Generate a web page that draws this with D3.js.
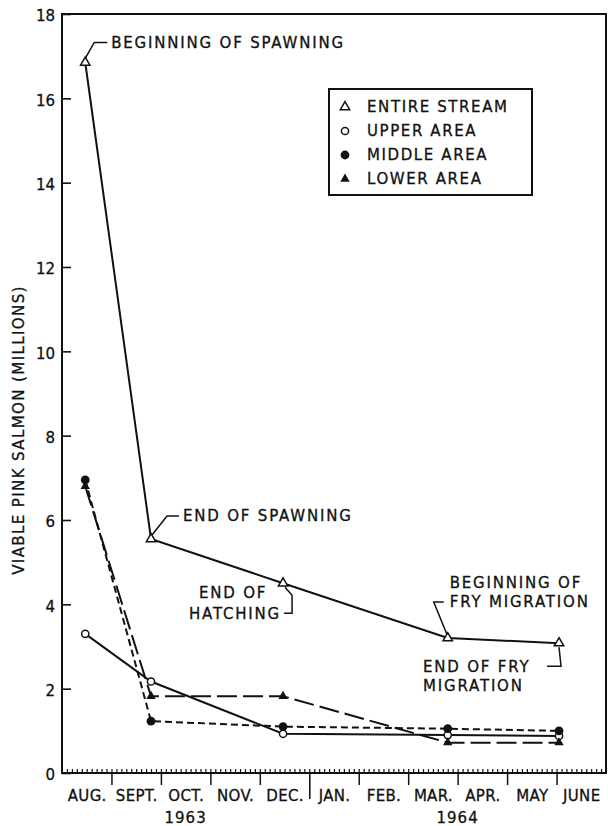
<!DOCTYPE html>
<html>
<head>
<meta charset="utf-8">
<script src="https://cdn.jsdelivr.net/npm/d3@7"></script>
<style>
  body { margin: 0; background: #fff; }
  svg text { font-family: "DejaVu Sans", sans-serif; fill: #111; stroke: #111; stroke-width: 0.3px; }
</style>
</head>
<body>
<div id="chart"></div>
<script>
// ==================================================
// DATA
// ==================================================

// Month labels along the bottom (Aug 1963 - June 1964)
var monthLabels = ["AUG.", "SEPT.", "OCT.", "NOV.", "DEC.", "JAN.", "FEB.", "MAR.", "APR.", "MAY", "JUNE"];

// Year labels and the month span they sit under
var yearLabels = ["1963", "1964"];
var yearSpans  = [[0, 5], [5, 11]];

// Y tick values
var yTicks = [0, 2, 4, 6, 8, 10, 12, 14, 16, 18];

// Sampling dates, in months after 1 Aug 1963
var sampleMonth = [0.47, 1.8, 4.47, 7.8, 10.05];

// Viable pink salmon (millions)
var entireStream = [16.85, 5.55, 4.5, 3.2, 3.08];
var upperArea    = [3.3, 2.17, 0.93, 0.9, 0.88];
var middleArea   = [6.95, 1.23, 1.1, 1.05, 1.0];
var lowerArea    = [6.8, 1.82, 1.82, 0.72, 0.72];

var seriesNames = ["ENTIRE STREAM", "UPPER AREA", "MIDDLE AREA", "LOWER AREA"];

// ==================================================
// CANVAS
// ==================================================

var W = 608, H = 826;
var margin = { top: 14, left: 62, right: 2, bottom: 53 };
var width  = W - margin.left - margin.right;
var height = H - margin.top - margin.bottom;

var svg = d3.select("#chart")
	.append("svg")
		.attr("width", W)
		.attr("height", H);

var visual = svg.append("g")
	.attr("transform", "translate(" + margin.left + "," + margin.top + ")");

// Scales
var x = d3.scaleLinear().domain([0, 11]).range([0, width]);
var y = d3.scaleLinear().domain([0, 18]).range([height, 0]);

// ==================================================
// AXES
// ==================================================

// Y axis, ticks pointing inward
var yAxis = visual.append("g")
	.call(d3.axisLeft(y).tickValues(yTicks).tickSizeInner(-9).tickSizeOuter(0).tickPadding(7));
yAxis.select(".domain").remove();
yAxis.selectAll("line").attr("stroke", "#111").attr("stroke-width", 1.6);
yAxis.selectAll("text")
	.attr("font-size", "15px")
	.attr("dy", "0.45em")
	.style("font-family", "DejaVu Sans");

// Minor ticks (every tenth of a month), pointing up
var minor = visual.append("g")
	.attr("transform", "translate(0," + height + ")")
	.call(d3.axisBottom(x).tickValues(d3.range(1, 110).map(function(d) { return d / 10; }))
		.tickSize(-4).tickFormat(""));
minor.select(".domain").remove();
minor.selectAll("line").attr("stroke", "#111").attr("stroke-width", 1.2);

// Month boundaries, pointing down
var major = visual.append("g")
	.attr("transform", "translate(0," + height + ")")
	.call(d3.axisBottom(x).tickValues([1, 2, 3, 4, 6, 7, 8, 9, 10]).tickSize(12).tickFormat(""));
major.select(".domain").remove();
major.selectAll("line").attr("stroke", "#111").attr("stroke-width", 1.5);

// Year boundary, longer
var yearTick = visual.append("g")
	.attr("transform", "translate(0," + height + ")")
	.call(d3.axisBottom(x).tickValues([5]).tickSize(26).tickFormat(""));
yearTick.select(".domain").remove();
yearTick.selectAll("line").attr("stroke", "#111").attr("stroke-width", 1.6);

// Month labels, centred in each month
var months = visual.append("g")
	.attr("transform", "translate(0," + height + ")")
	.call(d3.axisBottom(x).tickValues(d3.range(11).map(function(i) { return i + 0.5; }))
		.tickSize(0).tickPadding(17)
		.tickFormat(function(d) { return monthLabels[Math.floor(d)]; }));
months.select(".domain").remove();
months.selectAll("text")
	.attr("font-size", "15px")
	.attr("letter-spacing", "0.3px")
	.style("font-family", "DejaVu Sans");

// Year labels
visual.selectAll(".year")
	.data(yearLabels)
	.enter()
	.append("text")
		.attr("class", "year")
		.attr("x", function(d, i) { return x((yearSpans[i][0] + yearSpans[i][1]) / 2); })
		.attr("y", height + 50)
		.attr("text-anchor", "middle")
		.attr("font-size", "15px")
		.attr("letter-spacing", "1px")
		.text(function(d) { return d; });

// Frame
visual.append("rect")
	.attr("x", 0).attr("y", 0)
	.attr("width", width).attr("height", height)
	.attr("fill", "none")
	.attr("stroke", "#111")
	.attr("stroke-width", 2);

// Y label
svg.append("text")
	.attr("transform", "translate(24," + 430 + ") rotate(-90)")
	.attr("text-anchor", "middle")
	.attr("font-size", "15px")
	.attr("letter-spacing", "1.4px")
	.text("VIABLE PINK SALMON (MILLIONS)");

// ==================================================
// SERIES
// ==================================================

function pts(values) {
	return values.map(function(v, i) { return [sampleMonth[i], v]; });
}

var line = d3.line()
	.x(function(d) { return x(d[0]); })
	.y(function(d) { return y(d[1]); });

var series = [
	{ data: pts(entireStream), dash: null },
	{ data: pts(upperArea),    dash: null },
	{ data: pts(middleArea),   dash: "7,4" },
	{ data: pts(lowerArea),    dash: "20,6" }
];

visual.selectAll(".series")
	.data(series)
	.enter()
	.append("path")
		.attr("class", "series")
		.attr("d", function(d) { return line(d.data); })
		.attr("fill", "none")
		.attr("stroke", "#111")
		.attr("stroke-width", 2)
		.attr("stroke-dasharray", function(d) { return d.dash; });

// Marker drawing
var triPath = d3.symbol().type(d3.symbolTriangle).size(38)();

function marker(g, kind) {
	if (kind === 0) {
		g.append("path").attr("d", triPath).attr("fill", "#fff").attr("stroke", "#111").attr("stroke-width", 1.5);
	} else if (kind === 1) {
		g.append("circle").attr("r", 3.6).attr("fill", "#fff").attr("stroke", "#111").attr("stroke-width", 1.5);
	} else if (kind === 2) {
		g.append("circle").attr("r", 4.4).attr("fill", "#111");
	} else {
		g.append("path").attr("d", triPath).attr("fill", "#111");
	}
}

series.forEach(function(s, k) {
	s.data.forEach(function(d) {
		var g = visual.append("g")
			.attr("transform", "translate(" + x(d[0]) + "," + y(d[1]) + ")");
		marker(g, k);
	});
});

// ==================================================
// ANNOTATIONS
// ==================================================

function lead(points) {
	visual.append("path")
		.attr("d", d3.line()(points))
		.attr("fill", "none")
		.attr("stroke", "#111")
		.attr("stroke-width", 1.5);
}

function label(tx, ty, str, anchor) {
	return visual.append("text")
		.attr("x", tx).attr("y", ty)
		.attr("dy", "0.36em")
		.attr("text-anchor", anchor || "start")
		.attr("font-size", "15px")
		.attr("letter-spacing", "1.8px")
		.text(str);
}

var p;

// Beginning of spawning
p = [x(sampleMonth[0]), y(entireStream[0])];
lead([[p[0], p[1] - 4], [p[0] + 9, p[1] - 20], [p[0] + 22, p[1] - 20]]);
label(p[0] + 26, p[1] - 20, "BEGINNING OF SPAWNING");

// End of spawning
p = [x(sampleMonth[1]), y(entireStream[1])];
lead([[p[0] + 1, p[1] - 4], [p[0] + 16, p[1] - 23], [p[0] + 28, p[1] - 23]]);
label(p[0] + 32, p[1] - 23, "END OF SPAWNING");

// End of hatching
p = [x(sampleMonth[2]), y(entireStream[2])];
lead([[p[0] + 2, p[1] + 4], [p[0] + 9, p[1] + 12], [p[0] + 9, p[1] + 30], [p[0] + 1, p[1] + 30]]);
var hatch = label(p[0] - 2, p[1] + 30, "HATCHING", "end");
var hatchStart = p[0] - 2 - hatch.node().getComputedTextLength();
label(hatchStart + 10, p[1] + 9, "END OF");

// Beginning of fry migration
p = [x(sampleMonth[3]), y(entireStream[3])];
lead([[p[0] - 1, p[1] - 4], [p[0] - 14, p[1] - 36], [p[0] - 4, p[1] - 36]]);
label(p[0] + 2, p[1] - 55, "BEGINNING OF");
label(p[0] + 2, p[1] - 36, "FRY MIGRATION");

// End of fry migration
p = [x(sampleMonth[4]), y(entireStream[4])];
lead([[p[0], p[1] + 4], [p[0] + 2, p[1] + 23], [p[0] - 12, p[1] + 23]]);
label(p[0] - 136, p[1] + 23, "END OF FRY");
label(p[0] - 136, p[1] + 42, "MIGRATION");

// ==================================================
// LEGEND
// ==================================================

var legend = svg.append("g").attr("transform", "translate(329,89)");

legend.append("rect")
	.attr("width", 203).attr("height", 106)
	.attr("fill", "#fff")
	.attr("stroke", "#111")
	.attr("stroke-width", 2);

var rows = legend.selectAll(".row")
	.data(seriesNames)
	.enter()
	.append("g")
		.attr("class", "row")
		.attr("transform", function(d, i) { return "translate(0," + (18 + i * 24) + ")"; });

rows.each(function(d, i) {
	var g = d3.select(this).append("g").attr("transform", "translate(16,0)");
	marker(g, i);
});

rows.append("text")
	.attr("x", 38)
	.attr("dy", "0.36em")
	.attr("font-size", "15px")
	.attr("letter-spacing", "1.6px")
	.text(function(d) { return d; });
</script>
</body>
</html>
